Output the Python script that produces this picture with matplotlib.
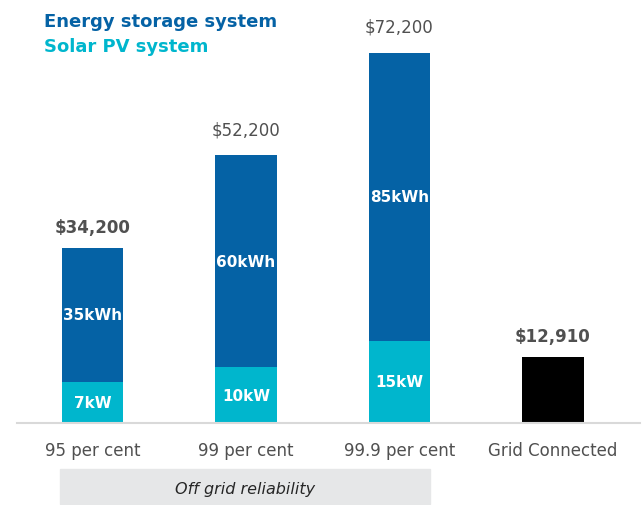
import matplotlib.pyplot as plt
from matplotlib.patches import Rectangle

categories = ["95 per cent", "99 per cent", "99.9 per cent", "Grid Connected"]
solar_pv = [8000, 10900, 16000]
storage = [26200, 41300, 56200]          # $
totals = [34200, 52200, 72200]
grid_cost = 12910
solar_labels = ["7kW", "10kW", "15kW"]
storage_labels = ["35kWh", "60kWh", "85kWh"]
total_labels = ["$34,200", "$52,200", "$72,200"]
total_bold = [True, False, False]

BLUE = "#0562A5"
CYAN = "#00B6CD"
GREY_TXT = "#505050"

W, H = 643, 506
fig = plt.figure(figsize=(W / 100, H / 100), dpi=100)
plt.rcParams["font.family"] = ["DejaVu Sans"]

# axes spans from the top of the figure down to the baseline (y=424 px)
base_px = 424
left_px, right_px = 17, 640
ax = fig.add_axes([left_px / W, (H - base_px) / H, (right_px - left_px) / W, base_px / H])
px_per_dollar = 0.00513
ax.set_ylim(0, base_px / px_per_dollar)
step = 153.5
ax.set_xlim((left_px - 92.5) / step, (right_px - 92.5) / step)

x = [0, 1, 2]
width = 0.4
ax.bar(x, solar_pv, width=width, color=CYAN)
ax.bar(x, storage, width=width, bottom=solar_pv, color=BLUE)
ax.bar([3], [grid_cost], width=width, color="black")

for i in x:
    ax.text(i, solar_pv[i] / 2, solar_labels[i], ha="center", va="center",
            color="white", fontsize=11, fontweight="bold")
    ax.text(i, solar_pv[i] + storage[i] / 2, storage_labels[i], ha="center", va="center",
            color="white", fontsize=11, fontweight="bold")
    ax.text(i, totals[i] + (2300 if total_bold[i] else 3300), total_labels[i],
            ha="center", va="bottom", color=GREY_TXT, fontsize=12,
            fontweight="bold" if total_bold[i] else "normal")
ax.text(3, grid_cost + 2300, f"${grid_cost:,}", ha="center", va="bottom",
        color=GREY_TXT, fontsize=12, fontweight="bold")

for s in ["top", "right", "left"]:
    ax.spines[s].set_visible(False)
ax.spines["bottom"].set_color("#D9D9D9")
ax.spines["bottom"].set_linewidth(1.5)
ax.set_yticks([])
ax.set_xticks(range(4))
ax.set_xticklabels(categories, fontsize=12, color=GREY_TXT)
ax.tick_params(axis="x", length=0, pad=13)

# legend text at the top left
fig.text(44 / W, 1 - 22 / H, "Energy storage system", color=BLUE, fontsize=13,
         fontweight="bold", va="center", ha="left")
fig.text(44 / W, 1 - 47 / H, "Solar PV system", color=CYAN, fontsize=13,
         fontweight="bold", va="center", ha="left")

# grey band under the off-grid categories
fig.patches.append(Rectangle((60 / W, 1 - 505 / H), 370 / W, 35 / H,
                             transform=fig.transFigure, color="#E6E7E8", zorder=0))
fig.text(245 / W, 1 - 490 / H, "Off grid reliability", fontsize=11.5, style="italic",
         color="#262626", ha="center", va="center")

fig.savefig("out.png", dpi=100)
